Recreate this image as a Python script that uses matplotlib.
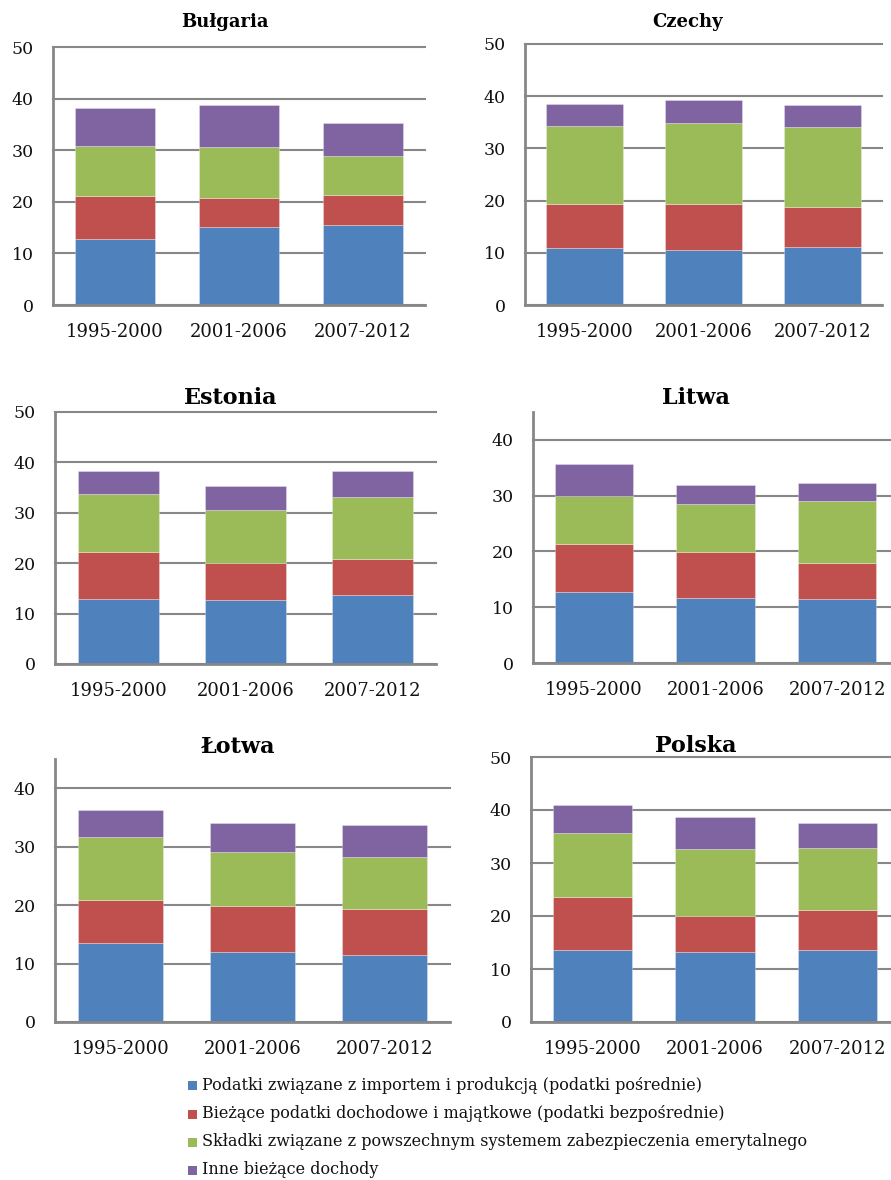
import matplotlib
matplotlib.use("Agg")
import matplotlib.pyplot as plt
from matplotlib.patches import Rectangle

# Periods on the category axis
periods = ["1995-2000", "2001-2006", "2007-2012"]

# Series names (bottom to top of each stacked bar)
series_labels = [
    "Podatki związane z importem i produkcją (podatki pośrednie)",
    "Bieżące podatki dochodowe i majątkowe (podatki bezpośrednie)",
    "Składki związane z powszechnym systemem zabezpieczenia emerytalnego",
    "Inne bieżące dochody",
]
series_colors = ["#4F81BD", "#C0504D", "#9BBB59", "#8064A2"]

# Revenue components, % of GDP: one row per series, one value per period
bulgaria = [[12.8, 15.1, 15.6], [8.4, 5.7, 5.7], [9.7, 9.8, 7.6], [7.3, 8.1, 6.4]]
czechy = [[11.0, 10.6, 11.1], [8.4, 8.8, 7.6], [14.9, 15.4, 15.4], [4.2, 4.4, 4.2]]
estonia = [[12.8, 12.6, 13.6], [9.5, 7.4, 7.3], [11.4, 10.6, 12.2], [4.6, 4.7, 5.2]]
litwa = [[12.8, 11.6, 11.5], [8.6, 8.3, 6.4], [8.5, 8.6, 11.1], [5.7, 3.4, 3.2]]
lotwa = [[13.5, 12.0, 11.4], [7.4, 7.9, 8.0], [10.8, 9.2, 8.8], [4.5, 5.0, 5.5]]
polska = [[13.6, 13.2, 13.5], [9.9, 6.8, 7.6], [12.2, 12.6, 11.7], [5.2, 6.0, 4.7]]

plt.rcParams["font.family"] = ["DejaVu Serif"]

W, H = 891, 1180
fig = plt.figure(figsize=(W / 100, H / 100), dpi=100)

GRID = "#878787"


def add_panel(title, data, box, ymax, title_xy, title_size):
    left, right, top, bottom = box
    ax = fig.add_axes([left / W, 1 - bottom / H, (right - left) / W, (bottom - top) / H])
    x = range(len(periods))
    base = [0.0] * len(periods)
    for values, color in zip(data, series_colors):
        ax.bar(x, values, width=0.645, bottom=base, color=color,
               edgecolor=(1, 1, 1, 0.35), linewidth=0.6, zorder=3)
        base = [b + v for b, v in zip(base, values)]
    ax.set_xlim(-0.5, len(periods) - 0.5)
    ax.set_ylim(0, ymax)
    ax.set_yticks(range(0, ymax + 1, 10) if ymax % 10 == 0 else range(0, ymax, 10))
    ax.set_xticks(list(x))
    ax.set_xticklabels(periods)
    ax.grid(axis="y", color=GRID, linewidth=1.5, zorder=1)
    for gl in ax.get_ygridlines():
        gl.set_clip_on(False)
    ax.set_axisbelow(True)
    for side in ("top", "right"):
        ax.spines[side].set_visible(False)
    for side in ("left", "bottom"):
        ax.spines[side].set_color(GRID)
        ax.spines[side].set_linewidth(2.0)
        ax.spines[side].set_zorder(4)
    ax.tick_params(axis="y", length=0, pad=14, labelsize=12.5, labelcolor="#111111")
    ax.tick_params(axis="x", length=0, pad=13, labelsize=13, labelcolor="#111111")
    fig.text(title_xy[0] / W, 1 - title_xy[1] / H, title, ha="center", va="center",
             fontsize=title_size, fontweight="bold", color="black")
    return ax


add_panel("Bułgaria", bulgaria, (53, 425, 47, 305), 50, (225, 22), 13)
add_panel("Czechy", czechy, (525, 882, 44, 305), 50, (688, 22), 13)
add_panel("Estonia", estonia, (55, 436, 412, 664), 50, (231, 398), 16)
add_panel("Litwa", litwa, (533, 898, 412, 663), 45, (696, 398), 16)
add_panel("Łotwa", lotwa, (55, 450, 759, 1022), 45, (238, 747), 16)
add_panel("Polska", polska, (531, 899, 757, 1022), 50, (696, 746), 16)

# Legend below the panels
legend_rows = [1085, 1114, 1142, 1170]
for label, color, yc in zip(series_labels, series_colors, legend_rows):
    fig.patches.append(Rectangle((188 / W, 1 - (yc + 4.5) / H), 9 / W, 9 / H,
                                 transform=fig.transFigure, facecolor=color,
                                 edgecolor="none"))
    fig.text(202 / W, 1 - yc / H, label, ha="left", va="center",
             fontsize=11.5, color="#111111")

fig.savefig("out.png", dpi=100)
